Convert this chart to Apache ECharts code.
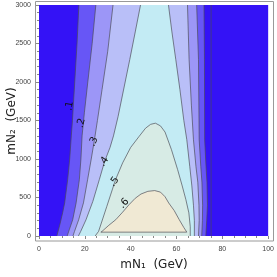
<!DOCTYPE html>
<html><head><meta charset="utf-8">
<script src="https://cdn.jsdelivr.net/npm/echarts@6/dist/echarts.min.js"></script>
<style>html,body{margin:0;padding:0;background:#fff}#c{width:277px;height:277px}</style>
</head><body><div id="c"></div>
<script>
// contour level names
const levelNames = ['.1', '.2', '.3', '.4', '.5', '.6'];

// left branches (bottom -> top), [mN1, mN2]
const level1Left = [[7.8,0],[9.2,160],[10.3,300],[11.2,430],[12.5,730],[13.4,1000],[14.1,1300],[14.6,1500],[15.6,2000],[16.6,2500],[17.4,3000]];
const level2Left = [[12.3,0],[13.2,80],[14.7,210],[16.2,430],[17.6,730],[18.3,1000],[18.8,1300],[19.8,1600],[21.3,2000],[23.2,2500],[24.8,3000]];
const level3Left = [[14.8,0],[15.5,60],[17.3,210],[19.4,430],[21.2,730],[22.8,1000],[24.2,1250],[25.5,1500],[27.5,1900],[30.0,2400],[32.3,3000]];
const level4Left = [[17.2,0],[18.2,60],[20.5,210],[23.5,450],[26.3,730],[28.6,965],[31.0,1150],[32.5,1300],[34.5,1550],[37.6,2000],[39.6,2290],[42.0,2650],[44.3,3000]];

// right branches (top -> bottom)
const level4Right = [[56.5,3000],[58.0,2650],[59.7,2290],[61.5,1900],[63.2,1500],[64.5,1250],[65.8,900],[66.7,650],[67.4,400],[67.8,200],[67.8,0]];
const level3Right = [[64.8,3000],[65.5,2290],[66.5,1700],[67.4,1250],[68.5,900],[69.3,700],[69.8,400],[69.9,200],[69.6,0]];
const level2Right = [[68.8,3000],[69.6,2290],[69.9,1250],[70.6,900],[71.1,700],[71.4,400],[71.3,200],[71.0,0]];
const level1Right = [[72.0,3000],[72.2,2290],[72.3,1250],[72.9,900],[73.3,700],[73.5,400],[73.2,200],[72.8,0]];

// closed domes (left bottom -> over the top -> right bottom)
const level5Dome = [[24.5,0],[26.0,60],[29.6,385],[33.4,731],[36.5,950],[40.0,1150],[43.6,1290],[46.5,1400],[48.7,1450],[50.8,1465],[53.0,1430],[55.0,1350],[57.8,1121],[60.5,861],[62.5,650],[64.1,471],[65.4,300],[66.0,120],[66.0,0]];
const level6Dome = [[27.0,50],[27.5,60],[30.5,140],[33.5,212],[36.5,310],[39.3,407],[42.0,490],[44.5,545],[47.5,580],[50.5,590],[53.0,570],[55.0,510],[56.6,429],[59.0,330],[61.2,212],[63.2,110],[64.5,50]];

// extra boundary line on the right
const edgeLine = [[75.1,0],[75.1,3000]];

// label anchors [mN1, mN2]
const labelAt = [[13.3,1690],[18.4,1468],[23.8,1225],[28.4,965],[32.8,705],[37.1,424]];
const labelAngle = [80, 75, 66, 56, 55, 48];

const colBg = '#3412f6';
const levelColors = ['#6756f6','#9c96f7','#b9bff8','#c3ebf4','#d7ebe5','#f0e9d4'];

function band(left, right) {
  const l0 = left[0], lN = left[left.length-1], r0 = right[0], rN = right[right.length-1];
  return [[l0[0],-150]].concat(left, [[lN[0],3150],[r0[0],3150]], right, [[rN[0],-150]]);
}
function dome(d) {
  return [[d[0][0],-150]].concat(d, [[d[d.length-1][0],-150]]);
}
const fills = [
  band(level1Left, level1Right),
  band(level2Left, level2Right),
  band(level3Left, level3Right),
  band(level4Left, level4Right),
  dome(level5Dome),
  level6Dome
];
const lines = [level1Left, level1Right, level2Left, level2Right, level3Left, level3Right, level4Left, level4Right, level5Dome, level6Dome.concat([level6Dome[0]]), edgeLine];

const chart = echarts.init(document.getElementById('c'), null, {renderer: 'canvas'});
const tickCol = '#888';
const axisCommon = {
  type: 'value', splitLine: {show: false}, axisLine: {show: false}
};
chart.setOption({
  animation: false,
  grid: {left: 39, right: 7, top: 5, bottom: 41, show: true, backgroundColor: colBg, borderWidth: 0},
  xAxis: [
    Object.assign({}, axisCommon, {min: 0, max: 100, interval: 20, position: 'bottom', offset: 5,
      axisTick: {show: true, inside: false, length: 3, lineStyle: {color: tickCol}},
      minorTick: {show: true, splitNumber: 4, length: 2, lineStyle: {color: tickCol}},
      axisLabel: {fontSize: 7, color: '#444', margin: 5, fontFamily: 'sans-serif', formatter: v => String(v)}}),
    Object.assign({}, axisCommon, {min: 0, max: 100, interval: 20, position: 'top', offset: 4,
      axisTick: {show: true, inside: true, length: 3, lineStyle: {color: tickCol}},
      minorTick: {show: true, splitNumber: 4, length: 2, lineStyle: {color: tickCol}},
      axisLabel: {show: false}})
  ],
  yAxis: [
    Object.assign({}, axisCommon, {min: 0, max: 3000, interval: 500, position: 'left', offset: 4,
      axisTick: {show: true, inside: false, length: 3, lineStyle: {color: tickCol}},
      minorTick: {show: true, splitNumber: 5, length: 2, lineStyle: {color: tickCol}},
      axisLabel: {fontSize: 7, color: '#444', margin: 4, fontFamily: 'sans-serif', formatter: v => String(v)}}),
    Object.assign({}, axisCommon, {min: 0, max: 3000, interval: 500, position: 'right', offset: 4,
      axisTick: {show: true, inside: true, length: 3, lineStyle: {color: tickCol}},
      minorTick: {show: true, splitNumber: 5, length: 2, lineStyle: {color: tickCol}},
      axisLabel: {show: false}})
  ],
  graphic: [
    {type: 'rect', shape: {x: 35.5, y: 1.5, width: 238, height: 239.5}, style: {fill: 'none', stroke: '#999', lineWidth: 1}, z: 100},
    {type: 'text', x: 154, y: 265, style: {text: 'mN₁  (GeV)', font: '12px "DejaVu Sans", sans-serif', fill: '#222', textAlign: 'center', textVerticalAlign: 'middle'}},
    {type: 'text', x: 12, y: 121, rotation: Math.PI/2, style: {text: 'mN₂  (GeV)', font: '12px "DejaVu Sans", sans-serif', fill: '#222', textAlign: 'center', textVerticalAlign: 'middle'}}
  ],
  series: [
    {
      type: 'custom', clip: true, xAxisIndex: 0, yAxisIndex: 0,
      data: fills.map((_, i) => i),
      renderItem: function (params, api) {
        const i = params.dataIndex;
        return {type: 'polygon', shape: {points: fills[i].map(p => api.coord(p))},
          style: {fill: levelColors[i], stroke: null}};
      }
    },
    {
      type: 'custom', clip: true, xAxisIndex: 0, yAxisIndex: 0,
      data: lines.map((_, i) => i),
      renderItem: function (params, api) {
        const i = params.dataIndex;
        return {type: 'polyline', shape: {points: lines[i].map(p => api.coord(p))},
          style: {fill: null, stroke: '#4a4a55', lineWidth: 0.8, opacity: 0.85}};
      }
    },
    {
      type: 'custom', clip: true, xAxisIndex: 0, yAxisIndex: 0,
      data: labelAt.map((_, i) => i),
      renderItem: function (params, api) {
        const i = params.dataIndex;
        const c = api.coord(labelAt[i]);
        return {type: 'text', x: c[0], y: c[1], rotation: labelAngle[i] * Math.PI / 180,
          style: {text: levelNames[i], font: '10px "DejaVu Sans", sans-serif', fill: '#111', textAlign: 'center', textVerticalAlign: 'middle'}};
      }
    }
  ]
});
</script>
</body></html>
